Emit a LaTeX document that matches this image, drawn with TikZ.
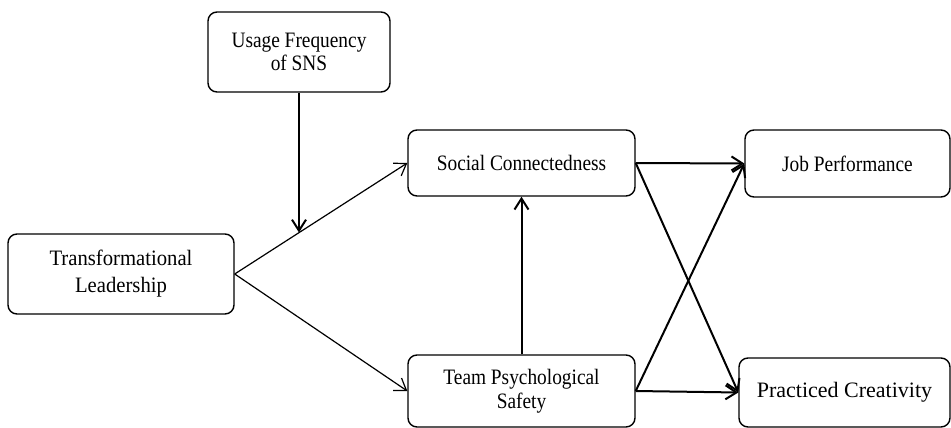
\documentclass[tikz,border=0pt]{standalone}
\usepackage{fontspec}
\setmainfont[FakeStretch=0.88]{Liberation Serif}
\newfontfamily\widefont{Liberation Serif}
\newfontfamily\midfont[FakeStretch=0.94]{Liberation Serif}
\usetikzlibrary{arrows.meta,calc}
\begin{document}
\begin{tikzpicture}[x=1pt,y=-1pt,
  box/.style={draw, line width=1.4pt, rounded corners=9pt, align=center,
    font=\fontsize{22}{23.5}\selectfont, inner sep=0pt},
  thinarrow/.style={line width=1.2pt, -{Straight Barb[length=11pt,width=15pt]}},
  thickarrow/.style={line width=2pt, -{Straight Barb[length=11pt,width=14pt]}}]
\useasboundingbox (0,0) rectangle (951,428);
\node[box, minimum width=182pt, minimum height=80pt] (U) at (299,52) {Usage Frequency\\of SNS};
\node[box, minimum width=226pt, minimum height=80pt, font=\midfont\fontsize{22}{27}\selectfont] (TL) at (121,274) {Transformational\\Leadership};
\node[box, minimum width=227pt, minimum height=66pt] (SC) at (521.5,163) {Social Connectedness};
\node[box, minimum width=227pt, minimum height=72pt] (TPS) at (521.5,391) {Team Psychological\\Safety};
\node[box, minimum width=205pt, minimum height=67pt] (JP) at (847.5,163.5) {Job Performance};
\node[box, minimum width=211pt, minimum height=69pt, font=\widefont\fontsize{22}{23.5}\selectfont] (PC) at (844.5,392.5) {Practiced Creativity};
\coordinate (J) at ($(TL.east)!0.3736!(SC.west)$);
\draw[thinarrow] (TL.east) -- (SC.west);
\draw[thinarrow] (TL.east) -- (TPS.west);
\draw[thickarrow] (U.south) -- (U.south |- J);
\draw[thickarrow] (TPS.north) -- (SC.south);
\draw[thickarrow] (SC.east) -- (JP.west);
\draw[thickarrow] (SC.east) -- (PC.west);
\draw[thickarrow] (TPS.east) -- (JP.west);
\draw[thickarrow] (TPS.east) -- (PC.west);
\end{tikzpicture}
\end{document}
